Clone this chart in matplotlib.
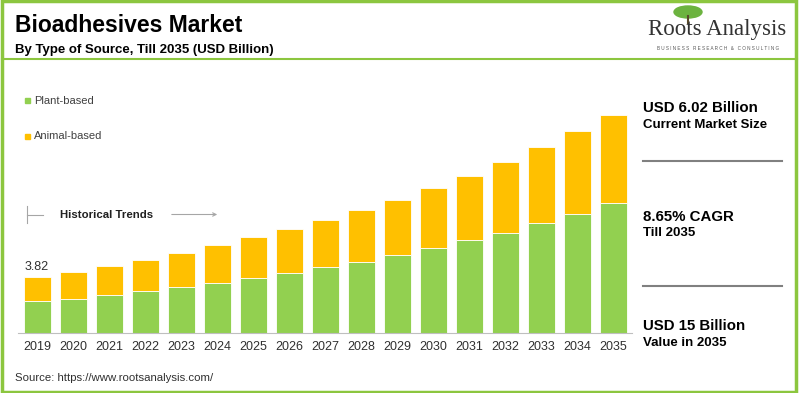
import matplotlib
matplotlib.use("Agg")
import matplotlib.pyplot as plt
import matplotlib.patches as patches
from matplotlib.lines import Line2D

plt.rcParams['font.family'] = ['Liberation Sans', 'DejaVu Sans']

# data (USD billion)
years = ['2019', '2020', '2021', '2022', '2023', '2024', '2025', '2026', '2027',
         '2028', '2029', '2030', '2031', '2032', '2033', '2034', '2035']
plant_based = [2.18, 2.36, 2.63, 2.87, 3.16, 3.46, 3.80, 4.14, 4.50,
               4.88, 5.34, 5.82, 6.37, 6.89, 7.54, 8.16, 8.91]
animal_based = [1.64, 1.83, 1.94, 2.14, 2.34, 2.56, 2.78, 3.00, 3.24,
                3.54, 3.81, 4.14, 4.43, 4.87, 5.24, 5.72, 6.09]
first_label = '3.82'

GREEN = '#92d050'
YELLOW = '#ffc000'
BORDER = '#8cc63f'
W, H = 800, 393


def fx(px):
    return px / W


def fy(py):
    return 1 - py / H


fig = plt.figure(figsize=(8, 3.93), dpi=100)

# bars
ax = fig.add_axes([fx(18), fy(333), fx(631.7) - fx(18), fy(100) - fy(333)])
x = list(range(len(years)))
ax.bar(x, plant_based, width=0.75, color=GREEN, edgecolor='white', linewidth=0.6, zorder=2)
ax.bar(x, animal_based, width=0.75, bottom=plant_based, color=YELLOW,
       edgecolor='white', linewidth=0.6, zorder=2)
ax.set_xlim(-0.53, len(years) - 0.5)
ax.set_ylim(0, 16)
ax.set_xticks(x)
ax.set_xticklabels(years, fontsize=9, color='#303030')
ax.tick_params(axis='x', length=0, pad=6)
ax.set_yticks([])
for s in ['top', 'right', 'left']:
    ax.spines[s].set_visible(False)
ax.spines['bottom'].set_color('#bfbfbf')
ax.annotate(first_label, (0, plant_based[0] + animal_based[0]), xytext=(0, 3),
            textcoords='offset points', ha='center', va='bottom', fontsize=9, color='#303030')

# outer border and header line
fig.patches.append(patches.Rectangle((fx(1.5), fy(391.5)), fx(796) - fx(1.5), fy(1.5) - fy(391.5),
                                     transform=fig.transFigure, fill=False, edgecolor=BORDER, linewidth=2.5))
fig.add_artist(Line2D([fx(2), fx(797)], [fy(58.5), fy(58.5)], color=BORDER, linewidth=1.5))

# titles
fig.text(fx(15), fy(32), 'Bioadhesives Market', fontsize=16.5, fontweight='bold', color='black', va='baseline')
fig.text(fx(15), fy(53), 'By Type of Source, Till 2035 (USD Billion)', fontsize=9.5, fontweight='bold',
         color='black', va='baseline')

# legend
fig.patches.append(patches.Rectangle((fx(25), fy(103)), fx(5), 5 / H, transform=fig.transFigure, color=GREEN))
fig.text(fx(34), fy(100.5), 'Plant-based', fontsize=8, color='#404040', va='center')
fig.patches.append(patches.Rectangle((fx(25), fy(138.5)), fx(5), 5 / H, transform=fig.transFigure, color=YELLOW))
fig.text(fx(34), fy(136), 'Animal-based', fontsize=8, color='#404040', va='center')

# historical trends marker
fig.add_artist(Line2D([fx(27.3), fx(27.3)], [fy(206), fy(223)], color='#a6a6a6', linewidth=0.8))
fig.add_artist(Line2D([fx(27.3), fx(43)], [fy(214.5), fy(214.5)], color='#a6a6a6', linewidth=0.8))
fig.text(fx(60), fy(214.5), 'Historical Trends', fontsize=8.2, fontweight='bold', color='#202020', va='center')
fig.add_artist(patches.FancyArrowPatch((fx(169), fy(214.5)), (fx(220), fy(214.5)), transform=fig.transFigure,
                                       arrowstyle='->', mutation_scale=6, color='#a6a6a6', linewidth=0.8))

# right panel
fig.text(fx(643), fy(108), 'USD 6.02 Billion', fontsize=10.8, fontweight='bold', color='black', va='center')
fig.text(fx(643), fy(125.5), 'Current Market Size', fontsize=9.5, fontweight='bold', color='black', va='center')
fig.add_artist(Line2D([fx(643), fx(782)], [fy(160.5), fy(160.5)], color='#808080', linewidth=1.5))
fig.text(fx(643), fy(217), '8.65% CAGR', fontsize=10.8, fontweight='bold', color='black', va='center')
fig.text(fx(643), fy(233.5), 'Till 2035', fontsize=9.5, fontweight='bold', color='black', va='center')
fig.add_artist(Line2D([fx(643), fx(782)], [fy(286), fy(286)], color='#808080', linewidth=1.5))
fig.text(fx(643), fy(326), 'USD 15 Billion', fontsize=10.8, fontweight='bold', color='black', va='center')
fig.text(fx(643), fy(342.5), 'Value in 2035', fontsize=9.5, fontweight='bold', color='black', va='center')

# source
fig.text(fx(15), fy(378), 'Source: https://www.rootsanalysis.com/', fontsize=8.2, color='#303030', va='center')

# logo
fig.add_artist(patches.Ellipse((fx(688), fy(12)), fx(28), 12 / H, transform=fig.transFigure,
                               color='#6cb33f'))
fig.add_artist(Line2D([fx(688), fx(688)], [fy(16), fy(23)], color='#5a4a2a', linewidth=1.5))
fig.text(fx(717.5), fy(29), 'Roots Analysis', family='Liberation Serif', fontsize=16.5, color='#333333',
         ha='center', va='center')
fig.text(fx(718), fy(48), 'B U S I N E S S   R E S E A R C H   &   C O N S U L T I N G', fontsize=3.3,
         color='#555555', ha='center', va='center')

fig.savefig('out.png', dpi=100)
